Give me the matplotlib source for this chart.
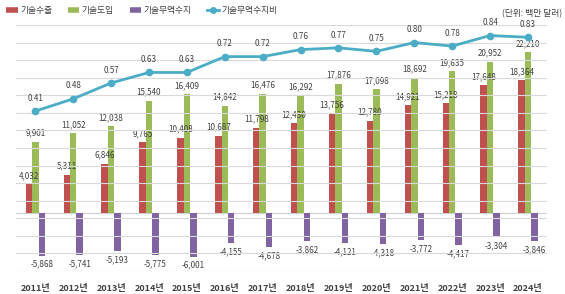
import matplotlib.pyplot as plt
from matplotlib.lines import Line2D
import numpy as np

plt.rcParams['font.family'] = ['Noto Sans CJK KR', 'DejaVu Sans']

years = ['2011년', '2012년', '2013년', '2014년', '2015년', '2016년', '2017년',
         '2018년', '2019년', '2020년', '2021년', '2022년', '2023년', '2024년']
export = [4032, 5311, 6846, 9765, 10408, 10687, 11798, 12430, 13756, 12780, 14921, 15218, 17648, 18364]
imports = [9901, 11052, 12038, 15540, 16409, 14842, 16476, 16292, 17876, 17098, 18692, 19635, 20952, 22210]
balance = [-5868, -5741, -5193, -5775, -6001, -4155, -4678, -3862, -4121, -4318, -3772, -4417, -3304, -3846]
ratio = [0.41, 0.48, 0.57, 0.63, 0.63, 0.72, 0.72, 0.76, 0.77, 0.75, 0.80, 0.78, 0.84, 0.83]

c_red = '#C0504D'
c_green = '#9BBB59'
c_purple = '#8064A2'
c_line = '#4BACC6'
c_text = '#404040'

fig = plt.figure(figsize=(5.65, 2.94), dpi=100)
ax = fig.add_axes([0.029, 0.078, 0.939, 0.837])
ax2 = ax.twinx()

x = np.arange(len(years))
w = 0.17

# gridlines come from the ratio axis (every 0.1)
ax2.set_ylim(-0.5, 0.9)
ax2.set_yticks(np.arange(-0.5, 0.91, 0.1))
ax2.yaxis.grid(True, color='#D9D9D9', lw=0.8)
ax2.tick_params(right=False, labelright=False)
ax.set_ylim(-8000, 26000)
ax.axhline(0, color='#D0D0D0', lw=0.8, zorder=1)

ax.bar(x - w, export, w, color=c_red, zorder=2)
ax.bar(x, imports, w, color=c_green, zorder=2)
ax.bar(x + w, balance, w, color=c_purple, zorder=2)

lab = dict(fontsize=5.8, color=c_text, ha='center', textcoords='offset points')
for i in range(len(years)):
    ax.annotate(f'{export[i]:,}', (x[i] - w, export[i]), xytext=(0, 3), va='bottom', **lab)
    ax.annotate(f'{imports[i]:,}', (x[i], imports[i]), xytext=(0, 3), va='bottom', **lab)
    ax.annotate(f'{balance[i]:,}', (x[i] + w, balance[i]), xytext=(0, -3), va='top', **lab)

# line goes on top of the bars
ax2.set_zorder(ax.get_zorder() + 1)
ax.patch.set_visible(True)
ax2.patch.set_visible(False)
ax.set_axisbelow(True)
ax2.plot(x, ratio, color=c_line, lw=2, marker='o', ms=4.5, zorder=5, clip_on=False)
for i in range(len(years)):
    ax2.annotate(f'{ratio[i]:.2f}', (x[i], ratio[i]), xytext=(0, 6), va='bottom',
                 annotation_clip=False, **lab)

ax.set_xlim(-0.5, len(years) - 0.5)
ax.set_xticks(x)
ax.set_xticklabels(years, fontsize=6.5, color=c_text, fontweight='bold')
ax.tick_params(axis='x', length=0, pad=9)
ax.tick_params(left=False, labelleft=False)
for a in (ax, ax2):
    for s in a.spines.values():
        s.set_visible(False)

handles = [Line2D([], [], color=c_red, lw=4, solid_capstyle='butt'),
           Line2D([], [], color=c_green, lw=4, solid_capstyle='butt'),
           Line2D([], [], color=c_purple, lw=4, solid_capstyle='butt'),
           Line2D([], [], color=c_line, lw=2, marker='o', ms=4)]
fig.legend(handles, ['기술수출', '기술도입', '기술무역수지', '기술무역수지비'],
           loc='upper left', bbox_to_anchor=(0.0, 1.0), ncol=4, frameon=False,
           fontsize=6.3, labelcolor=c_text, handlelength=1.3, handletextpad=0.3,
           columnspacing=1.8, borderaxespad=0.3)
fig.text(0.995, 0.955, '(단위: 백만 달러)', fontsize=6.3, color=c_text, ha='right', va='center')

fig.savefig('out.png', dpi=100)
